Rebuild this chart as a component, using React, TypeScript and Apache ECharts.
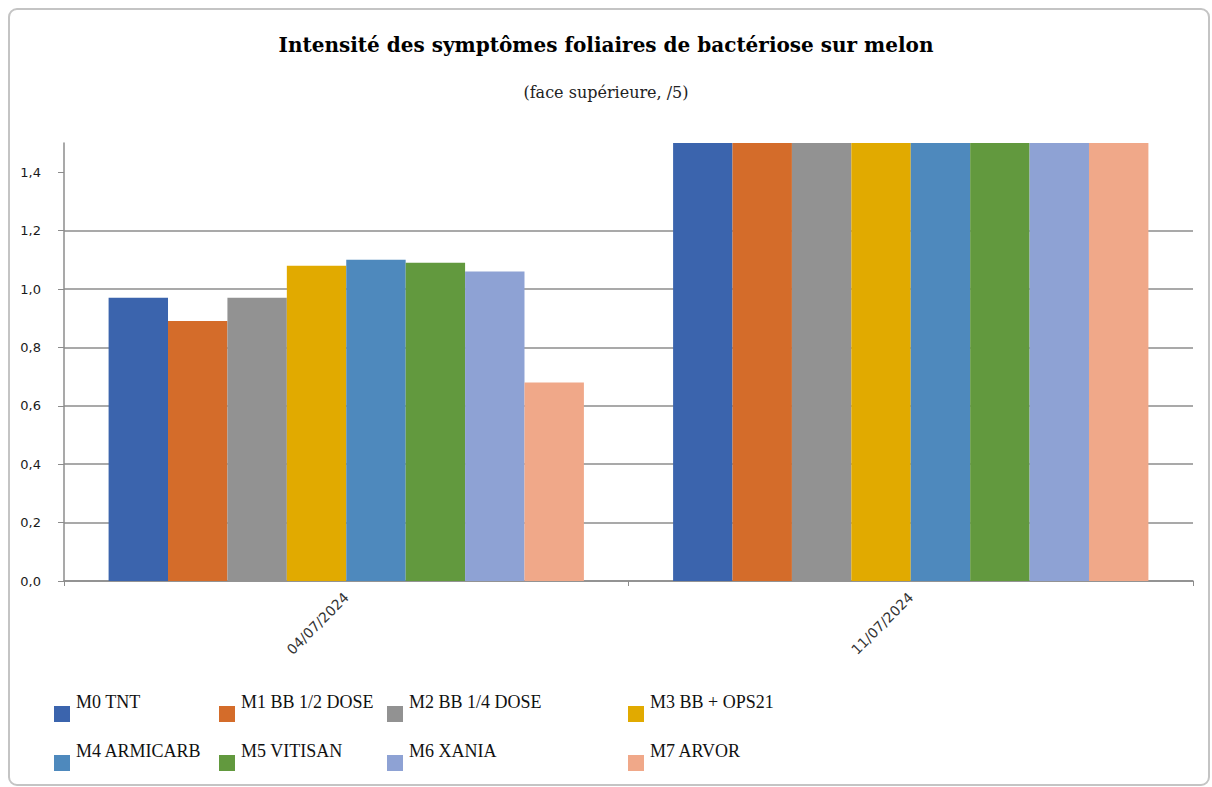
import React, { useEffect, useRef } from "react";
import * as echarts from "echarts";

const categories = ["04/07/2024", "11/07/2024"];
const seriesNames = [
  "M0 TNT",
  "M1 BB 1/2 DOSE",
  "M2 BB 1/4 DOSE",
  "M3 BB + OPS21",
  "M4 ARMICARB",
  "M5 VITISAN",
  "M6 XANIA",
  "M7 ARVOR",
];
const colors = ["#3B64AD", "#D46C2A", "#929292", "#E1AA00", "#4E89BD", "#62993E", "#8EA2D4", "#F0A889"];
// values per series: [04/07/2024, 11/07/2024] (second date exceeds the axis and is clipped at 1.5)
const m0 = [0.97, 2.4];
const m1 = [0.89, 2.3];
const m2 = [0.97, 2.4];
const m3 = [1.08, 2.2];
const m4 = [1.1, 2.3];
const m5 = [1.09, 2.2];
const m6 = [1.06, 2.1];
const m7 = [0.68, 2.0];
const seriesValues = [m0, m1, m2, m3, m4, m5, m6, m7];
const yTicks = [0, 0.2, 0.4, 0.6, 0.8, 1.0, 1.2, 1.4];

const legendPos = [
  { left: 54, top: 693 },
  { left: 219, top: 693 },
  { left: 387, top: 693 },
  { left: 628, top: 693 },
  { left: 54, top: 742 },
  { left: 219, top: 742 },
  { left: 387, top: 742 },
  { left: 628, top: 742 },
];

export default function App() {
  const ref = useRef<HTMLDivElement>(null);
  useEffect(() => {
    document.body.style.margin = "0";
    const chart = echarts.init(ref.current!, null, { renderer: "svg" });
    const serif = "'Liberation Serif', 'DejaVu Serif', serif";
    const wideSerif = "'DejaVu Serif', 'Liberation Serif', serif";
    const sans = "'DejaVu Sans', Verdana, sans-serif";
    chart.setOption({
      animation: false,
      backgroundColor: "#ffffff",
      color: colors,
      title: [
        {
          text: "Intensité des symptômes foliaires de bactériose sur melon",
          left: "center",
          top: 30,
          textStyle: { fontFamily: wideSerif, fontWeight: "bold", fontSize: 20, color: "#000" },
        },
        {
          text: "(face supérieure, /5)",
          left: "center",
          top: 79,
          textStyle: { fontFamily: wideSerif, fontWeight: "normal", fontSize: 16, color: "#222" },
        },
      ],
      graphic: [
        {
          type: "rect",
          shape: { x: 9, y: 9, width: 1200, height: 776, r: 8 },
          style: { fill: "none", stroke: "#c4c4c4", lineWidth: 2 },
          silent: true,
        },
      ],
      legend: seriesNames.map((name, i) => ({
        data: [name],
        left: legendPos[i].left,
        top: legendPos[i].top,
        icon: "rect",
        itemWidth: 16,
        itemHeight: 16,
        itemGap: 0,
        padding: 0,
        formatter: (n: string) => `{t|${n}}`,
        textStyle: {
          fontFamily: serif,
          fontSize: 18,
          color: "#111",
          rich: {
            t: {
              fontFamily: serif,
              fontSize: 18,
              color: "#111",
              padding: [0, 0, 24, 1],
            },
          },
        },
      })),
      grid: { left: 64, right: 19, top: 143, bottom: 206, containLabel: false },
      xAxis: {
        type: "category",
        data: categories,
        axisLine: { lineStyle: { color: "#8c8c8c", width: 1.5 } },
        axisTick: { show: true, length: 5, lineStyle: { color: "#8c8c8c" } },
        axisLabel: {
          rotate: 45,
          fontFamily: sans,
          fontSize: 14,
          color: "#333",
          margin: 14,
        },
      },
      yAxis: {
        type: "value",
        min: 0,
        max: 1.5,
        interval: 0.1,
        axisLine: { show: true, lineStyle: { color: "#8c8c8c", width: 1.5 } },
        axisTick: { show: true, length: 6, customValues: yTicks, lineStyle: { color: "#8c8c8c" } },
        axisLabel: {
          customValues: yTicks,
          fontFamily: sans,
          fontSize: 13,
          color: "#1a1a1a",
          margin: 23,
          formatter: (v: number) => v.toFixed(1).replace(".", ","),
        },
        splitLine: { show: true, showMaxLine: false, lineStyle: { color: "#8c8c8c", width: 1.5 } },
      },
      series: seriesNames.map((name, i) => ({
        name,
        type: "bar",
        data: seriesValues[i],
        barGap: "0%",
        barCategoryGap: "15.8%",
        clip: true,
        itemStyle: { color: colors[i] },
      })),
    });
    return () => chart.dispose();
  }, []);
  return (
    <div
      ref={ref}
      style={{ position: "absolute", left: 0, top: 0, width: 1212, height: 787 }}
    />
  );
}
